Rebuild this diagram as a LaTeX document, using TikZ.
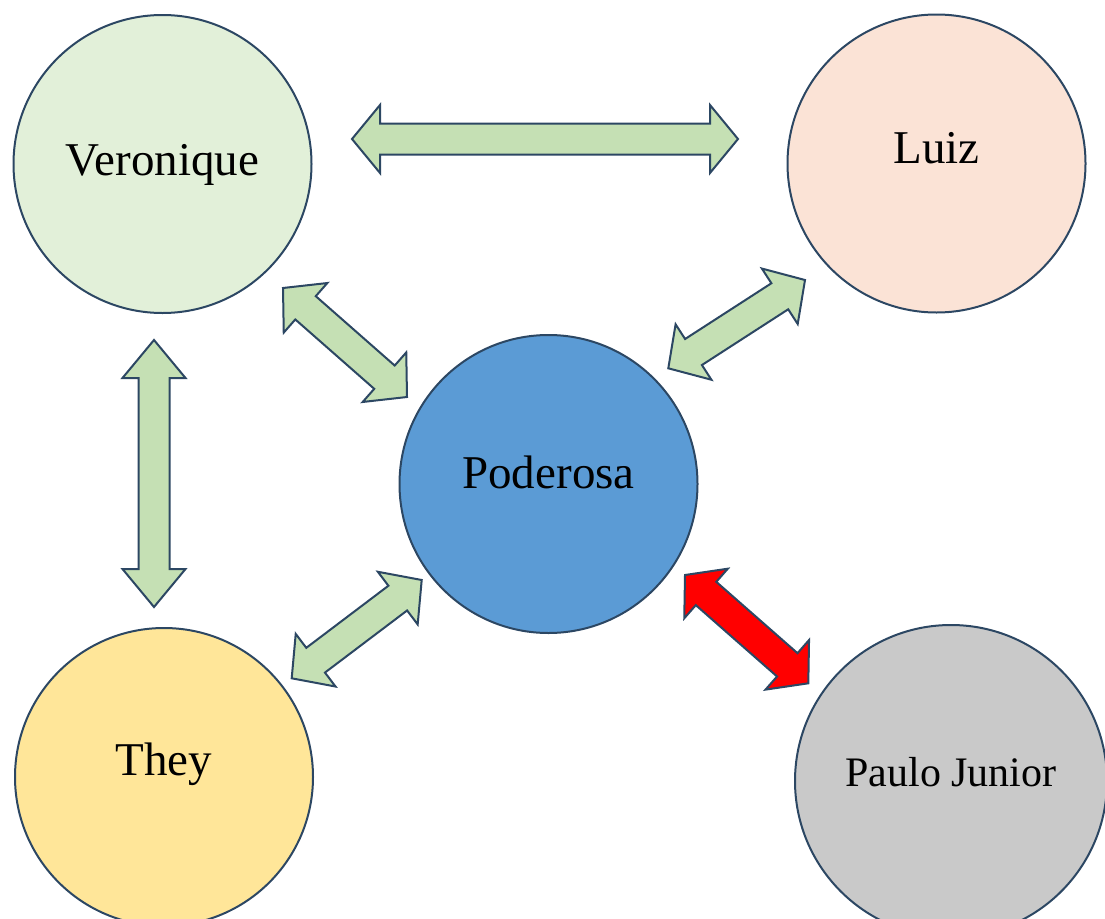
\documentclass[tikz,border=0pt]{standalone}
\usepackage{fontspec}
\setmainfont{Liberation Serif}
\usetikzlibrary{calc}
\definecolor{contorno}{HTML}{2C4763}
\definecolor{verdeclaro}{HTML}{E2F0D9}
\definecolor{salmao}{HTML}{FBE3D6}
\definecolor{azul}{HTML}{5B9BD5}
\definecolor{amarelo}{HTML}{FFE699}
\definecolor{cinza}{HTML}{C9C9C9}
\definecolor{verdeseta}{HTML}{C5E0B4}
\definecolor{vermelho}{HTML}{FF0000}
\tikzstyle{pessoa} = [circle, draw=contorno, line width=2pt, minimum size=298pt, inner sep=0pt, text height=33pt, text depth=10pt, font=\fontsize{47}{56}\selectfont]
\tikzstyle{seta} = [draw=contorno, line width=2pt, fill=verdeseta, line join=miter]
\tikzset{cabeca/.store in=\cabeca, cabeca=30pt, corpo/.store in=\corpo, corpo=15.5pt, aba/.store in=\aba, aba=33pt}
% seta dupla entre as pontas #2 e #3
\newcommand{\setadupla}[3][]{%
	\path (#2) coordinate (s) (#3) coordinate (e);
	\filldraw[seta,#1] (s)
		-- ($(s)!\cabeca!(e)!\aba!90:(e)$)
		-- ($(s)!\cabeca!(e)!\corpo!90:(e)$)
		-- ($(e)!\cabeca!(s)!\corpo!-90:(s)$)
		-- ($(e)!\cabeca!(s)!\aba!-90:(s)$)
		-- (e)
		-- ($(e)!\cabeca!(s)!\aba!90:(s)$)
		-- ($(e)!\cabeca!(s)!\corpo!90:(s)$)
		-- ($(s)!\cabeca!(e)!\corpo!-90:(e)$)
		-- ($(s)!\cabeca!(e)!\aba!-90:(e)$)
		-- cycle;
}
\begin{document}
\begin{tikzpicture}[x=1pt,y=-1pt]
	\useasboundingbox (0,0) rectangle (1105,918);
	\clip (0,0) rectangle (1105,918);
	\node[pessoa, fill=verdeclaro] (veronique) at (162.5,164) {Veronique};
	\node[pessoa, fill=salmao] (luiz) at (936.5,163.5) {\raisebox{12pt}{Luiz}};
	\node[pessoa, fill=azul] (poderosa) at (548.5,484) {\raisebox{7.5pt}{Poderosa}};
	\node[pessoa, fill=amarelo] (they) at (164,777) {\raisebox{13.5pt}{They}};
	\node[pessoa, fill=cinza, minimum size=312pt, font=\fontsize{42}{50}\selectfont] (paulo) at (951,781) {\raisebox{6.5pt}{Paulo Junior}};
	% setas
	\setadupla[cabeca=28pt, aba=34pt]{$(veronique)+(189.5,-25)$}{$(luiz)+(-198.5,-24.5)$}
	\setadupla[cabeca=38pt, aba=31.5pt]{$(veronique)+(-8.5,176)$}{$(they)+(-10,-170)$}
	\setadupla{$(veronique)+(120.5,124)$}{$(poderosa)+(-141.5,-87)$}
	\setadupla{$(poderosa)+(119.8,-115.7)$}{$(luiz)+(-131.5,116.5)$}
	\setadupla{$(they)+(127.7,-98.7)$}{$(poderosa)+(-126.8,96)$}
	\setadupla[fill=vermelho, cabeca=28pt]{$(poderosa)+(136.5,91)$}{$(paulo)+(-142.7,-97.7)$}
\end{tikzpicture}
\end{document}
